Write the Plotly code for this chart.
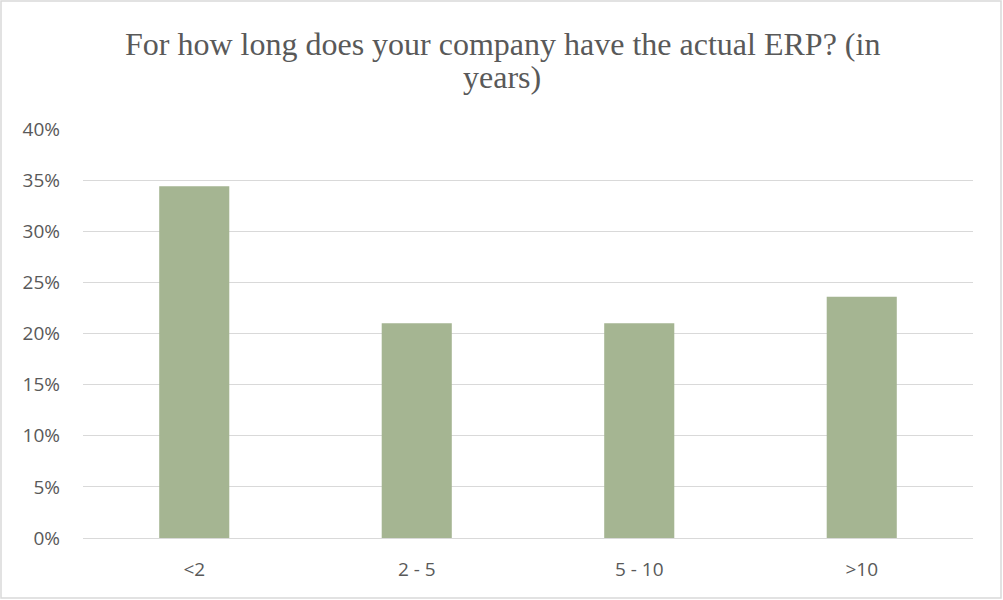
import plotly.graph_objects as go

# Survey answers: how many years the current ERP has been in use
categories = ["<2", "2 - 5", "5 - 10", ">10"]
shares = [0.344, 0.210, 0.210, 0.236]

y_ticks = [0, 0.05, 0.10, 0.15, 0.20, 0.25, 0.30, 0.35, 0.40]
y_tick_labels = ["0%", "5%", "10%", "15%", "20%", "25%", "30%", "35%", "40%"]

title_lines = ["For how long does your company have the actual ERP? (in", "years)"]

fig = go.Figure(
    go.Bar(
        x=categories,
        y=shares,
        marker=dict(color="#A5B592", line=dict(width=0)),
        width=0.315,
        hoverinfo="x+y",
    )
)

# Title drawn as two stacked lines with tight spacing
title_annotations = [
    dict(
        text=line,
        xref="paper",
        yref="paper",
        x=(502 - 83) / 890,
        y=(538 - cy) / 409,
        xanchor="center",
        yanchor="middle",
        showarrow=False,
        font=dict(family="Liberation Serif", size=32, color="#595959"),
    )
    for line, cy in zip(title_lines, [44, 77])
]

fig.update_layout(
    width=1003,
    height=600,
    margin=dict(l=83, r=30, t=129, b=62),
    paper_bgcolor="white",
    plot_bgcolor="white",
    showlegend=False,
    xaxis=dict(
        tickfont=dict(family="Open Sans", size=19, color="#595959"),
        showgrid=False,
        showline=False,
        ticks="",
        ticklabelstandoff=18,
    ),
    yaxis=dict(
        range=[0, 0.40],
        tickvals=y_ticks,
        ticktext=y_tick_labels,
        tickfont=dict(family="Open Sans", size=19, color="#595959"),
        showgrid=True,
        gridcolor="#D9D9D9",
        gridwidth=1,
        zeroline=True,
        zerolinecolor="#D9D9D9",
        zerolinewidth=1,
        showline=False,
        ticks="",
        ticklabelstandoff=22,
    ),
    annotations=title_annotations,
    shapes=[
        dict(
            type="rect",
            xref="paper",
            yref="paper",
            x0=-82 / 890,
            x1=1 + 28 / 890,
            y0=-60 / 409,
            y1=1 + 128 / 409,
            line=dict(color="#D9D9D9", width=1.5),
            fillcolor="rgba(0,0,0,0)",
            layer="below",
        )
    ],
)

fig.write_html("out.html")
